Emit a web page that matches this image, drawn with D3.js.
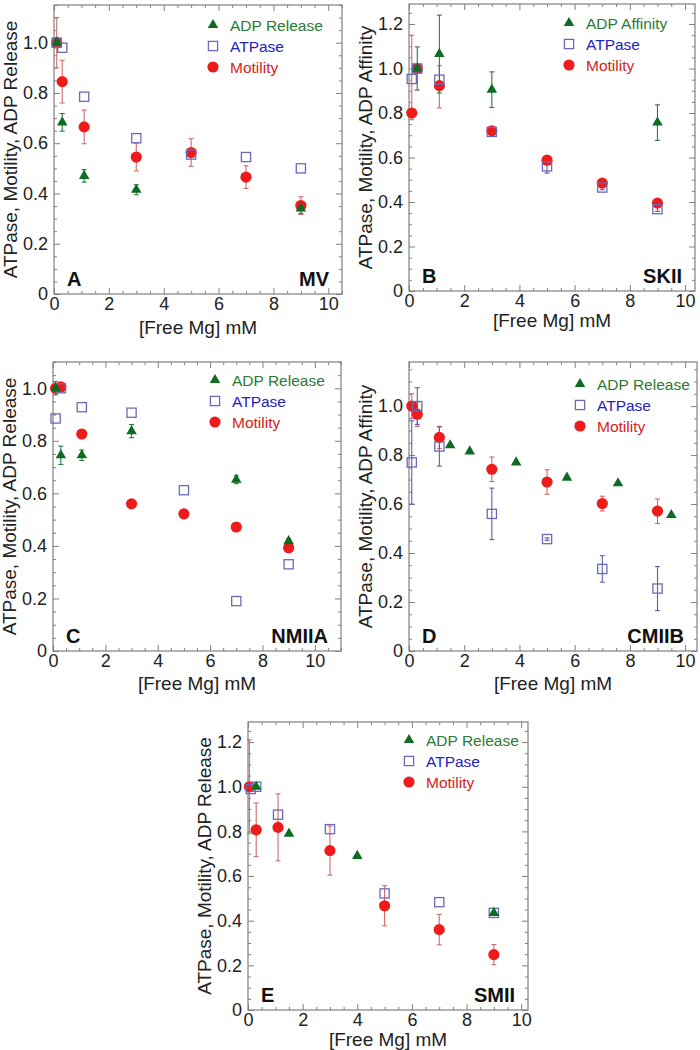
<!DOCTYPE html>
<html><head><meta charset="utf-8">
<script src="https://cdn.jsdelivr.net/npm/d3@7"></script>
<style>body{margin:0;background:#fff} svg{display:block} text{font-family:"Liberation Sans",Arial,sans-serif}</style>
</head><body>
<svg id="c" width="700" height="1050"></svg>
<script>
// ---------- DATA ----------
// Panel A (MV)
const A_adp_x = [0.1, 0.3, 1.1, 3.0, 9.0];
const A_adp_y = [1.0, 0.683, 0.47, 0.415, 0.34];
const A_adp_e = [0.02, 0.035, 0.025, 0.02, 0.02];
const A_atp_x = [0.1, 0.3, 1.1, 3.0, 5.0, 7.0, 9.0];
const A_atp_y = [1.0, 0.98, 0.785, 0.62, 0.555, 0.545, 0.5];
const A_atp_e = [0, 0, 0, 0, 0, 0, 0];
const A_mot_x = [0.1, 0.3, 1.1, 3.0, 5.0, 7.0, 9.0];
const A_mot_y = [1.0, 0.845, 0.665, 0.545, 0.563, 0.465, 0.352];
const A_mot_e = [0.1, 0.085, 0.067, 0.055, 0.055, 0.045, 0.035];
// Panel B (SKII)
const B_adp_x = [0.3, 1.1, 3.0, 9.0];
const B_adp_y = [1.0, 1.065, 0.905, 0.757];
const B_adp_e = [0.097, 0.175, 0.08, 0.08];
const B_atp_x = [0.1, 0.3, 1.1, 3.0, 5.0, 7.0, 9.0];
const B_atp_y = [0.953, 1.0, 0.95, 0.715, 0.56, 0.465, 0.368];
const B_atp_e = [0, 0, 0, 0, 0.03, 0.01, 0.01];
const B_mot_x = [0.1, 0.3, 1.1, 3.0, 5.0, 7.0, 9.0];
const B_mot_y = [0.8, 1.0, 0.923, 0.72, 0.588, 0.485, 0.395];
const B_mot_eHi = [0.35, 0, 0.09, 0.01, 0.01, 0.01, 0.01];
const B_mot_eLo = [0.03, 0, 0.1, 0.01, 0.01, 0.01, 0.01];
// Panel C (NMIIA)
const C_adp_x = [0.1, 0.3, 1.1, 3.0, 7.0, 9.0];
const C_adp_y = [1.0, 0.745, 0.745, 0.837, 0.652, 0.418];
const C_adp_e = [0.025, 0.035, 0.02, 0.025, 0.015, 0.01];
const C_atp_x = [0.1, 0.3, 1.1, 3.0, 5.0, 7.0, 9.0];
const C_atp_y = [0.885, 1.0, 0.928, 0.907, 0.612, 0.19, 0.33];
const C_atp_e = [0, 0, 0, 0, 0, 0, 0];
const C_mot_x = [0.1, 0.3, 1.1, 3.0, 5.0, 7.0, 9.0];
const C_mot_y = [1.0, 1.005, 0.826, 0.56, 0.522, 0.472, 0.393];
const C_mot_e = [0, 0, 0, 0, 0, 0, 0];
// Panel D (CMIIB)
const D_adp_x = [1.49, 2.2, 3.88, 5.72, 7.57, 9.5];
const D_adp_y = [0.84, 0.815, 0.77, 0.708, 0.685, 0.555];
const D_adp_e = [0, 0, 0, 0, 0, 0];
const D_atp_x = [0.1, 0.3, 1.1, 3.0, 5.0, 7.0, 9.0];
const D_atp_y = [0.77, 1.0, 0.835, 0.56, 0.457, 0.335, 0.255];
const D_atp_e = [0.17, 0.075, 0.08, 0.105, 0.005, 0.054, 0.09];
const D_mot_x = [0.1, 0.3, 1.1, 3.0, 5.0, 7.0, 9.0];
const D_mot_y = [1.0, 0.967, 0.872, 0.742, 0.69, 0.602, 0.571];
const D_mot_e = [0.05, 0.05, 0.045, 0.05, 0.05, 0.03, 0.05];
// Panel E (SMII)
const E_adp_x = [0.3, 1.5, 4.0, 9.0];
const E_adp_y = [1.0, 0.79, 0.69, 0.435];
const E_adp_e = [0, 0, 0, 0];
const E_atp_x = [0.1, 0.3, 1.1, 3.0, 5.0, 7.0, 9.0];
const E_atp_y = [0.99, 1.0, 0.875, 0.81, 0.522, 0.483, 0.435];
const E_atp_e = [0, 0, 0, 0, 0, 0, 0];
const E_mot_x = [0.05, 0.3, 1.1, 3.0, 5.0, 7.0, 9.0];
const E_mot_y = [1.0, 0.807, 0.818, 0.714, 0.467, 0.36, 0.248];
const E_mot_e = [0.21, 0.12, 0.15, 0.11, 0.09, 0.068, 0.045];

const seriesNames = ["ATPase", "Motility"];
const adpNames = {A: "ADP Release", B: "ADP Affinity", C: "ADP Release", D: "ADP Release", E: "ADP Release"};
const yTitles = {A: "ATPase, Motility, ADP Release", B: "ATPase, Motility, ADP Affinity",
                 C: "ATPase, Motility, ADP Release", D: "ATPase, Motility, ADP Affinity",
                 E: "ATPase, Motility, ADP Release"};
const panelTags = {A: "MV", B: "SKII", C: "NMIIA", D: "CMIIB", E: "SMII"};
const xTitle = "[Free Mg] mM";

// ---------- LAYOUT ----------
const panels = [
  {id:"A", left:54, right:342, top:5, bottom:294, xMax:10.5, yMax:1.15, xtOff:40, leg:[213,25],
   adp:[A_adp_x,A_adp_y,A_adp_e,A_adp_e], atp:[A_atp_x,A_atp_y,A_atp_e,A_atp_e], mot:[A_mot_x,A_mot_y,A_mot_e,A_mot_e]},
  {id:"B", left:409, right:695, top:4, bottom:291, xMax:10.36, yMax:1.29, xtOff:36, leg:[569,23],
   adp:[B_adp_x,B_adp_y,B_adp_e,B_adp_e], atp:[B_atp_x,B_atp_y,B_atp_e,B_atp_e], mot:[B_mot_x,B_mot_y,B_mot_eLo,B_mot_eHi]},
  {id:"C", left:53, right:341, top:362, bottom:651, xMax:11, yMax:1.10, xtOff:38.5, leg:[215,380],
   adp:[C_adp_x,C_adp_y,C_adp_e,C_adp_e], atp:[C_atp_x,C_atp_y,C_atp_e,C_atp_e], mot:[C_mot_x,C_mot_y,C_mot_e,C_mot_e]},
  {id:"D", left:409, right:697, top:362, bottom:651, xMax:10.43, yMax:1.18, xtOff:38.5, leg:[580,384],
   adp:[D_adp_x,D_adp_y,D_adp_e,D_adp_e], atp:[D_atp_x,D_atp_y,D_atp_e,D_atp_e], mot:[D_mot_x,D_mot_y,D_mot_e,D_mot_e]},
  {id:"E", left:248, right:528, top:722, bottom:1010, xMax:10.25, yMax:1.29, xtOff:36, leg:[409,740],
   adp:[E_adp_x,E_adp_y,E_adp_e,E_adp_e], atp:[E_atp_x,E_atp_y,E_atp_e,E_atp_e], mot:[E_mot_x,E_mot_y,E_mot_e,E_mot_e]}
];

const COL = {
  adp:"#0e6b22", adpErr:"#2f7a3c", adpText:"#2b7a33",
  atp:"#6a6ab8", atpErr:"#5e5eb0", atpText:"#2323bb",
  mot:"#ee1b1b", motErr:"#d26a6a", motText:"#d62222",
  frame:"#808080", text:"#222"
};

const svg = d3.select("#c");
const triPath = d3.symbol().type(d3.symbolTriangle).size(48)();

function drawMarker(g, kind, cx, cy){
  if(kind==="adp"){
    g.append("path").attr("d", triPath).attr("transform", `translate(${cx},${cy})`).attr("fill", COL.adp);
  } else if(kind==="atp"){
    g.append("rect").attr("x", cx-4.6).attr("y", cy-4.6).attr("width", 9.2).attr("height", 9.2)
      .attr("fill","none").attr("stroke", COL.atp).attr("stroke-width", 1.3);
  } else {
    g.append("circle").attr("cx", cx).attr("cy", cy).attr("r", 5.6).attr("fill", COL.mot);
  }
}

function drawPanel(p){
  const g = svg.append("g");
  const x = d3.scaleLinear().domain([0,p.xMax]).range([p.left,p.right]);
  const y = d3.scaleLinear().domain([0,p.yMax]).range([p.bottom,p.top]);
  const eps = 1e-9;
  const xMajor = d3.range(0, p.xMax+eps, 2);
  const xMinor = d3.range(0, p.xMax+eps, 0.5).filter(v => Math.abs(v/2 - Math.round(v/2))>1e-6);
  const yMajor = d3.range(0, 6.5).map(i => i*0.2).filter(v => v <= p.yMax+eps);
  const yMinor = d3.range(0, 30).map(i => i*0.05).filter(v => v <= p.yMax+eps && Math.abs(v/0.2 - Math.round(v/0.2))>1e-6);
  const fmt = d => Math.abs(d)<1e-9 ? "0" : d3.format(".1f")(d);

  function styleAxis(sel, labels){
    sel.select(".domain").remove();
    sel.selectAll(".tick line").attr("stroke", COL.frame).attr("stroke-width", 1);
    if(!labels) { sel.selectAll(".tick text").remove(); return; }
    sel.selectAll(".tick text").attr("fill", COL.text).style("font-size", "18px")
      .style("font-family", '"Liberation Sans", Arial, sans-serif');
  }
  // bottom
  g.append("g").attr("transform", `translate(0,${p.bottom})`)
    .call(d3.axisBottom(x).tickValues(xMajor).tickSize(-6).tickPadding(3).tickFormat(d3.format("d")))
    .call(s => styleAxis(s, true));
  g.append("g").attr("transform", `translate(0,${p.bottom})`)
    .call(d3.axisBottom(x).tickValues(xMinor).tickSize(-3)).call(s => styleAxis(s, false));
  // top
  g.append("g").attr("transform", `translate(0,${p.top})`)
    .call(d3.axisTop(x).tickValues(xMajor).tickSize(-6)).call(s => styleAxis(s, false));
  g.append("g").attr("transform", `translate(0,${p.top})`)
    .call(d3.axisTop(x).tickValues(xMinor).tickSize(-3)).call(s => styleAxis(s, false));
  // left
  g.append("g").attr("transform", `translate(${p.left},0)`)
    .call(d3.axisLeft(y).tickValues(yMajor).tickSize(-6).tickPadding(6).tickFormat(fmt))
    .call(s => styleAxis(s, true));
  g.append("g").attr("transform", `translate(${p.left},0)`)
    .call(d3.axisLeft(y).tickValues(yMinor).tickSize(-3)).call(s => styleAxis(s, false));
  // right
  g.append("g").attr("transform", `translate(${p.right},0)`)
    .call(d3.axisRight(y).tickValues(yMajor).tickSize(-6)).call(s => styleAxis(s, false));
  g.append("g").attr("transform", `translate(${p.right},0)`)
    .call(d3.axisRight(y).tickValues(yMinor).tickSize(-3)).call(s => styleAxis(s, false));

  // frame
  g.append("rect").attr("x", p.left).attr("y", p.top).attr("width", p.right-p.left).attr("height", p.bottom-p.top)
    .attr("fill","none").attr("stroke", COL.frame).attr("stroke-width", 1.2);

  // titles
  g.append("text").attr("x", (p.left+p.right)/2).attr("y", p.bottom + p.xtOff).attr("text-anchor","middle")
    .attr("fill", COL.text).style("font-size","19px").text(xTitle);
  g.append("text").attr("transform", `translate(${p.left-37},${(p.top+p.bottom)/2}) rotate(-90)`)
    .attr("text-anchor","middle").attr("fill", COL.text).style("font-size","19px").text(yTitles[p.id]);

  // panel letter and tag
  g.append("text").attr("x", p.left+13).attr("y", p.bottom-8).attr("fill","#111")
    .style("font-size","20px").style("font-weight","bold").text(p.id);
  g.append("text").attr("x", p.right-13).attr("y", p.bottom-8).attr("text-anchor","end").attr("fill","#111")
    .style("font-size","20px").style("font-weight","bold").text(panelTags[p.id]);

  // error bars
  const errG = g.append("g");
  function errBars(arr, color){
    const [xs, ys, lo, hi] = arr;
    xs.forEach((xv, i) => {
      if(!(lo[i] > 0 || hi[i] > 0)) return;
      const cx = x(xv), y1 = y(ys[i]-lo[i]), y2 = y(ys[i]+hi[i]);
      errG.append("line").attr("x1",cx).attr("x2",cx).attr("y1",y1).attr("y2",y2).attr("stroke",color).attr("stroke-width",1.1);
      if(lo[i]>0) errG.append("line").attr("x1",cx-2.5).attr("x2",cx+2.5).attr("y1",y1).attr("y2",y1).attr("stroke",color).attr("stroke-width",1.1);
      if(hi[i]>0) errG.append("line").attr("x1",cx-2.5).attr("x2",cx+2.5).attr("y1",y2).attr("y2",y2).attr("stroke",color).attr("stroke-width",1.1);
    });
  }
  errBars(p.mot, COL.motErr);
  errBars(p.atp, COL.atpErr);
  errBars(p.adp, COL.adpErr);

  // markers
  const mg = g.append("g");
  p.mot[0].forEach((xv,i) => drawMarker(mg, "mot", x(xv), y(p.mot[1][i])));
  p.atp[0].forEach((xv,i) => drawMarker(mg, "atp", x(xv), y(p.atp[1][i])));
  p.adp[0].forEach((xv,i) => drawMarker(mg, "adp", x(xv), y(p.adp[1][i])));

  // legend
  const [lx, ly] = p.leg;
  const items = [["adp", adpNames[p.id], COL.adpText], ["atp", seriesNames[0], COL.atpText], ["mot", seriesNames[1], COL.motText]];
  items.forEach((it, i) => {
    const yy = ly + i*21;
    drawMarker(g, it[0], lx, yy);
    g.append("text").attr("x", lx+17).attr("y", yy+5.5).attr("fill", it[2]).style("font-size","15.5px").text(it[1]);
  });
}

panels.forEach(drawPanel);
</script>
</body></html>
